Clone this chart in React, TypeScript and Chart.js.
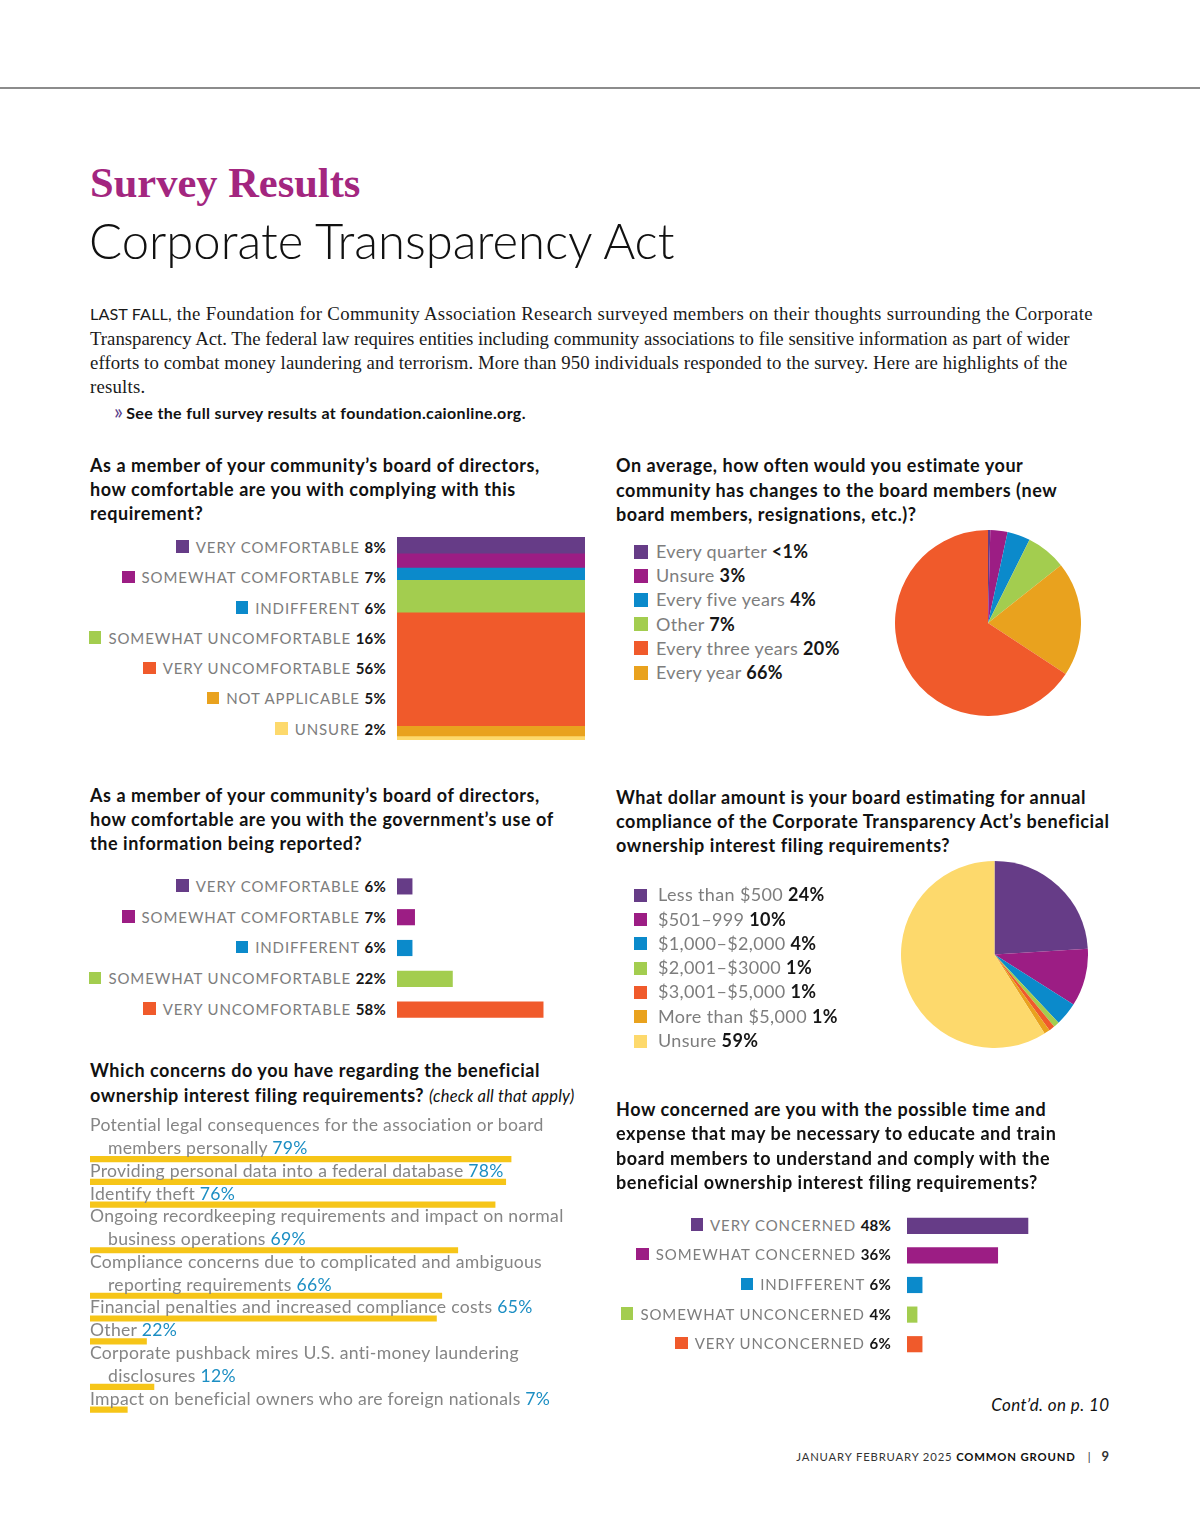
import React, { useEffect, useRef } from "react";
import { Chart, registerables } from "chart.js";
Chart.register(...registerables);

// ---------- colours ----------
const PURPLE = "#663c87";
const MAGENTA = "#9c1d84";
const BLUE = "#0b8acb";
const GREEN = "#a3cd4f";
const ORANGE = "#f05a2b";
const GOLD = "#e9a21e";
const LIGHT = "#fdd96c";
const YELLOW = "#f6c518";

// ---------- data ----------
const complyLabels = ["VERY COMFORTABLE", "SOMEWHAT COMFORTABLE", "INDIFFERENT", "SOMEWHAT UNCOMFORTABLE", "VERY UNCOMFORTABLE", "NOT APPLICABLE", "UNSURE"];
const complyValues = [8, 7, 6, 16, 56, 5, 2];
const complyColors = [PURPLE, MAGENTA, BLUE, GREEN, ORANGE, GOLD, LIGHT];

const freqLabels = ["Every quarter", "Unsure", "Every five years", "Other", "Every three years", "Every year"];
const freqPct = ["<1%", "3%", "4%", "7%", "20%", "66%"];
const freqLegendColors = [PURPLE, MAGENTA, BLUE, GREEN, ORANGE, GOLD];
const freqSliceValues = [0.4, 3, 4, 7, 20, 66];
const freqSliceColors = [PURPLE, MAGENTA, BLUE, GREEN, GOLD, ORANGE];

const govLabels = ["VERY COMFORTABLE", "SOMEWHAT COMFORTABLE", "INDIFFERENT", "SOMEWHAT UNCOMFORTABLE", "VERY UNCOMFORTABLE"];
const govValues = [6, 7, 6, 22, 58];
const govColors = [PURPLE, MAGENTA, BLUE, GREEN, ORANGE];

const costLabels = ["Less than $500", "$501\u2013999", "$1,000\u2013$2,000", "$2,001\u2013$3000", "$3,001\u2013$5,000", "More than $5,000", "Unsure"];
const costValues = [24, 10, 4, 1, 1, 1, 59];
const costColors = [PURPLE, MAGENTA, BLUE, GREEN, ORANGE, GOLD, LIGHT];

const concernTexts = [
  "Potential legal consequences for the association or board\nmembers personally",
  "Providing personal data into a federal database",
  "Identify theft",
  "Ongoing recordkeeping requirements and impact on normal\nbusiness operations",
  "Compliance concerns due to complicated and ambiguous\nreporting requirements",
  "Financial penalties and increased compliance costs",
  "Other",
  "Corporate pushback mires U.S. anti-money laundering\ndisclosures",
  "Impact on beneficial owners who are foreign nationals",
];
const concernPct = [79, 78, 76, 69, 66, 65, 22, 12, 7];
const concernBar = [79, 78, 76, 69, 66, 65, 10.6, 12, 7];

const trainLabels = ["VERY CONCERNED", "SOMEWHAT CONCERNED", "INDIFFERENT", "SOMEWHAT UNCONCERNED", "VERY UNCONCERNED"];
const trainValues = [48, 36, 6, 4, 6];
const trainColors = [PURPLE, MAGENTA, BLUE, GREEN, ORANGE];

// ---------- fonts / text helpers ----------
const SANS = "Lato, 'Noto Sans', sans-serif";
const SERIF = "'Liberation Serif', serif";
const GREY = "#7d7d7d";
const INK = "#161616";

type Metrics = { asc: number; desc: number };
const LATO: Metrics = { asc: 0.987, desc: 0.213 };
const LIB: Metrics = { asc: 0.891, desc: 0.216 };

function Line(props: {
  x: number; base: number; f: number; m?: Metrics; right?: boolean;
  style?: React.CSSProperties; children: React.ReactNode;
}) {
  const m = props.m || LATO;
  const L = Math.round(props.f * 1.5);
  const top = props.base - ((L - (m.asc + m.desc) * props.f) / 2 + m.asc * props.f);
  const pos: React.CSSProperties = props.right
    ? { right: 1200 - props.x, textAlign: "right" }
    : { left: props.x };
  return (
    <div style={{
      position: "absolute", top, ...pos, whiteSpace: "nowrap",
      fontFamily: SANS, fontSize: props.f, lineHeight: L + "px", color: INK,
      ...props.style,
    }}>{props.children}</div>
  );
}

const noAxes = { display: false };

function useChart(ref: React.RefObject<HTMLCanvasElement | null>, make: () => any) {
  useEffect(() => {
    if (!ref.current) return;
    const c = new Chart(ref.current, make());
    return () => c.destroy();
  }, []);
}

function Canvas(props: { x: number; y: number; w: number; h: number; make: () => any }) {
  const ref = useRef<HTMLCanvasElement | null>(null);
  useChart(ref, props.make);
  return (
    <div style={{ position: "absolute", left: props.x, top: props.y, width: props.w, height: props.h }}>
      <canvas ref={ref} width={props.w} height={props.h} style={{ display: "block" }} />
    </div>
  );
}

const baseOpts = {
  responsive: false,
  animation: false as const,
  events: [] as any[],
  layout: { padding: 0 },
  plugins: { legend: { display: false }, tooltip: { enabled: false }, title: { display: false } },
};

// ---------- stacked column ----------
function StackedColumn() {
  return (
    <Canvas x={397} y={537} w={188} h={203} make={() => ({
      type: "bar",
      data: {
        labels: [""],
        datasets: complyValues.map((v, i) => ({
          label: complyLabels[i], data: [v], backgroundColor: complyColors[i],
          borderWidth: 0, barPercentage: 1, categoryPercentage: 1,
        })),
      },
      options: {
        ...baseOpts,
        scales: {
          x: { ...noAxes, stacked: true },
          y: { ...noAxes, stacked: true, reverse: true, min: 0, max: 100 },
        },
      },
    })} />
  );
}

const LABEL_LS = 0.9;

function SqLabel(props: { x: number; base: number; f: number; color: string; label: string; pct: string; sq: number; gap: number }) {
  return (
    <Line x={props.x} base={props.base} f={props.f} right style={{ letterSpacing: LABEL_LS }}>
      <span style={{
        display: "inline-block", width: props.sq, height: props.sq, background: props.color,
        marginRight: props.gap, verticalAlign: "baseline",
      }} />
      <span style={{ color: GREY }}>{props.label}</span>{" "}
      <span style={{ fontWeight: 700, color: INK, letterSpacing: 0.2 }}>{props.pct}</span>
    </Line>
  );
}

// ---------- horizontal bars ----------
function HBars(props: {
  barLeft: number; top: number; band: number; labels: string[]; values: number[]; colors: string[];
  labelRight: number; f: number; pxPerPct: number; thick: number;
}) {
  const n = props.labels.length;
  const h = props.band * n;
  const w = Math.round(100 * props.pxPerPct);
  return (
    <>
      <Canvas x={props.barLeft} y={props.top} w={w} h={h} make={() => ({
        type: "bar",
        data: {
          labels: props.labels,
          datasets: [{ data: props.values, backgroundColor: props.colors, borderWidth: 0, barThickness: props.thick }],
        },
        options: {
          ...baseOpts,
          indexAxis: "y",
          scales: { x: { ...noAxes, min: 0, max: 100 }, y: { ...noAxes } },
        },
      })} />
      {props.labels.map((l, i) => (
        <SqLabel key={i} x={props.labelRight} base={props.top + (i + 0.5) * props.band + 0.36 * props.f}
          f={props.f} color={props.colors[i]} label={l} pct={props.values[i] + "%"} sq={12.5} gap={7} />
      ))}
    </>
  );
}

// ---------- pie ----------
function Pie(props: { cx: number; cy: number; r: number; values: number[]; colors: string[] }) {
  const s = props.r * 2;
  return (
    <Canvas x={props.cx - props.r} y={props.cy - props.r} w={s} h={s} make={() => ({
      type: "pie",
      data: {
        labels: props.values.map((_, i) => String(i)),
        datasets: [{ data: props.values, backgroundColor: props.colors, borderWidth: 0, hoverOffset: 0 }],
      },
      options: { ...baseOpts },
    })} />
  );
}

function PieLegend(props: { x: number; textX: number; base0: number; step: number; f: number; sq: number; labels: string[]; pct: string[]; colors: string[] }) {
  return (
    <>
      {props.labels.map((l, i) => {
        const base = props.base0 + i * props.step;
        return (
          <React.Fragment key={i}>
            <div style={{ position: "absolute", left: props.x, top: base - props.sq, width: props.sq, height: props.sq, background: props.colors[i] }} />
            <Line x={props.textX} base={base} f={props.f} style={{ letterSpacing: 0.35 }}>
              <span style={{ color: GREY }}>{l}</span>{" "}
              <span style={{ fontWeight: 700 }}>{props.pct[i]}</span>
            </Line>
          </React.Fragment>
        );
      })}
    </>
  );
}

// ---------- concerns list ----------
const CONCERN_LINE0 = 1132;
const CONCERN_STEP = 22.78;
const CONCERN_F = 17.6;

function Concerns() {
  const lines: { text: string; indent: boolean; pct: number | null }[] = [];
  const bars: (number | null)[] = [];
  concernTexts.forEach((t, i) => {
    const parts = t.split("\n");
    parts.forEach((p, j) => {
      const last = j === parts.length - 1;
      lines.push({ text: p, indent: j > 0, pct: last ? concernPct[i] : null });
      bars.push(last ? concernBar[i] : null);
    });
  });
  const n = lines.length;
  const barCenter0 = CONCERN_LINE0 - 0.253 * CONCERN_F + 8.5;
  const top = barCenter0 - CONCERN_STEP / 2;
  return (
    <>
      <Canvas x={90} y={top} w={533} h={CONCERN_STEP * n} make={() => ({
        type: "bar",
        data: {
          labels: lines.map((l) => l.text),
          datasets: [{ data: bars, backgroundColor: YELLOW, borderWidth: 0, barThickness: 5.5 }],
        },
        options: {
          ...baseOpts,
          indexAxis: "y",
          scales: { x: { ...noAxes, min: 0, max: 100 }, y: { ...noAxes } },
        },
      })} />
      {lines.map((l, i) => (
        <Line key={i} x={l.indent ? 108 : 90} base={CONCERN_LINE0 + i * CONCERN_STEP} f={CONCERN_F} style={{ color: "#858585", letterSpacing: 0.28 }}>
          {l.text}
          {l.pct !== null && <>{" "}<span style={{ color: "#1c8ec3" }}>{l.pct}%</span></>}
        </Line>
      ))}
    </>
  );
}

function Title(props: { x: number; bases: number[]; lines: React.ReactNode[] }) {
  return (
    <>
      {props.lines.map((l, i) => (
        <Line key={i} x={props.x} base={props.bases[i]} f={18} style={{ fontWeight: 700, color: "#111", letterSpacing: 0.55 }}>{l}</Line>
      ))}
    </>
  );
}

const introSpacing = [0.32, 0.0, 0.09, 0.2];

export default function App() {
  return (
    <div style={{ position: "absolute", left: 0, top: 0, width: 1200, height: 1527, background: "#fff", overflow: "hidden" }}>
      <div style={{ position: "absolute", left: 0, top: 87, width: 1200, height: 2, background: "#8c8c8c" }} />

      <Line x={90} base={197.5} f={42.5} m={LIB} style={{ fontFamily: SERIF, fontWeight: 700, color: "#a3267f" }}>Survey Results</Line>
      <Line x={89} base={258.5} f={49} style={{ fontWeight: 300, color: "#111" }}>Corporate Transparency Act</Line>

      {[
        <><span style={{ fontFamily: SANS, fontSize: 16.2, letterSpacing: 0.1 }}>LAST FALL,</span> the Foundation for Community Association Research surveyed members on their thoughts surrounding the Corporate</>,
        <>Transparency Act. The federal law requires entities including community associations to file sensitive information as part of wider</>,
        <>efforts to combat money laundering and terrorism. More than 950 individuals responded to the survey. Here are highlights of the</>,
        <>results.</>,
      ].map((c, i) => (
        <Line key={i} x={90} base={320.7 + i * 24.3} f={18.8} m={LIB} style={{ fontFamily: SERIF, color: "#1a1a1a", letterSpacing: introSpacing[i] }}>{c}</Line>
      ))}
      <Line x={114} base={417.5} f={16} style={{ fontWeight: 700, color: "#111", letterSpacing: 0.35 }}>
        <span style={{ color: "#5b3f8c", fontSize: 21, fontWeight: 400, letterSpacing: -1 }}>{"\u00bb"}</span> See the full survey results at foundation.caionline.org.
      </Line>

      {/* chart 1 */}
      <Title x={90} bases={[472, 496, 520]} lines={[
        "As a member of your community\u2019s board of directors,",
        "how comfortable are you with complying with this",
        "requirement?",
      ]} />
      <StackedColumn />
      {complyLabels.map((l, i) => (
        <SqLabel key={i} x={386} base={553.3 + i * 30.3} f={15} color={complyColors[i]} label={l} pct={complyValues[i] + "%"} sq={12.5} gap={7} />
      ))}

      {/* chart 2 */}
      <Title x={616} bases={[472.7, 497, 521.3]} lines={[
        "On average, how often would you estimate your",
        "community has changes to the board members (new",
        "board members, resignations, etc.)?",
      ]} />
      <PieLegend x={634} textX={656} base0={558.5} step={24.2} f={18} sq={14} labels={freqLabels} pct={freqPct} colors={freqLegendColors} />
      <Pie cx={987.5} cy={623} r={93} values={freqSliceValues} colors={freqSliceColors} />

      {/* chart 3 */}
      <Title x={90} bases={[802, 826, 850.5]} lines={[
        "As a member of your community\u2019s board of directors,",
        "how comfortable are you with the government\u2019s use of",
        "the information being reported?",
      ]} />
      <HBars barLeft={397} top={871.3} band={30.8} labels={govLabels} values={govValues} colors={govColors}
        labelRight={386} f={15} pxPerPct={2.52} thick={15.5} />

      {/* chart 4 */}
      <Title x={616} bases={[804, 828.5, 852.7]} lines={[
        "What dollar amount is your board estimating for annual",
        "compliance of the Corporate Transparency Act\u2019s beneficial",
        "ownership interest filing requirements?",
      ]} />
      <PieLegend x={634} textX={658} base0={901.7} step={24.3} f={18} sq={13} labels={costLabels} pct={costValues.map((v) => v + "%")} colors={costColors} />
      <Pie cx={994.5} cy={954.5} r={93.5} values={costValues} colors={costColors} />

      {/* chart 5 */}
      <Title x={90} bases={[1077.3, 1102.5]} lines={[
        "Which concerns do you have regarding the beneficial",
        <>ownership interest filing requirements? <span style={{ fontWeight: 400, fontStyle: "italic", fontSize: 16.5, letterSpacing: 0.2 }}>(check all that apply)</span></>,
      ]} />
      <Concerns />

      {/* chart 6 */}
      <Title x={616} bases={[1116.7, 1140.9, 1165.1, 1189.3]} lines={[
        "How concerned are you with the possible time and",
        "expense that may be necessary to educate and train",
        "board members to understand and comply with the",
        "beneficial ownership interest filing requirements?",
      ]} />
      <HBars barLeft={906.7} top={1210.9} band={29.65} labels={trainLabels} values={trainValues} colors={trainColors}
        labelRight={891} f={15} pxPerPct={2.52} thick={15.5} />

      <Line x={1109.5} right base={1411.7} f={17} style={{ fontStyle: "italic", color: "#111", letterSpacing: 0.4 }}>Cont{"\u2019"}d. on p. 10</Line>
      <Line x={1109} right base={1460.7} f={11.3} style={{ letterSpacing: 0.85, color: "#333" }}>
        JANUARY FEBRUARY 2025 <span style={{ fontWeight: 700, color: "#111" }}>COMMON GROUND</span>
        <span style={{ margin: "0 10px 0 12px" }}>|</span>
        <span style={{ fontWeight: 700, fontSize: 13, letterSpacing: 0 }}>9</span>
      </Line>
    </div>
  );
}
